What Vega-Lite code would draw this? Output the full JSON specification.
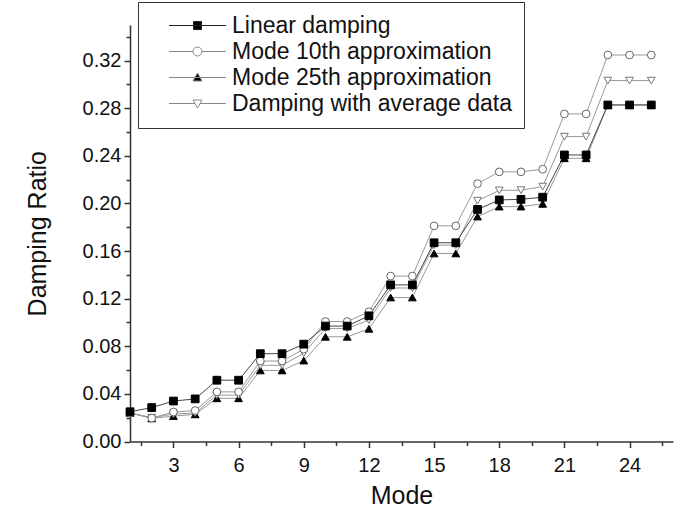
{
  "$schema": "https://vega.github.io/schema/vega-lite/v6.json",
  "width": 543,
  "height": 416.5,
  "autosize": "none",
  "padding": {"left": 130, "top": 25, "right": 13, "bottom": 73.5},
  "background": "white",
  "config": {
    "view": {"stroke": null},
    "font": "Liberation Sans",
    "axis": {"grid": false, "domainColor": "#333", "tickColor": "#333", "domainWidth": 1.5, "tickWidth": 1.5, "labelColor": "#111", "titleColor": "#111", "labelFont": "Liberation Sans", "titleFont": "Liberation Sans", "titleFontWeight": "normal"},
    "legend": {
      "orient": "none", "legendX": 8, "legendY": -23,
      "labelFontSize": 23, "labelFont": "Liberation Sans", "labelColor": "#111", "labelLimit": 500,
      "symbolSize": 400, "symbolStrokeWidth": 1, "symbolOpacity": 1, "symbolOffset": 36, "labelOffset": 23,
      "padding": 12, "rowPadding": 2, "strokeColor": "#333", "fillColor": "white"
    }
  },
  "data": {
    "values": [
      {"mode":1,"series":"Mode 25th approximation","v":0.024},{"mode":2,"series":"Mode 25th approximation","v":0.0194},{"mode":3,"series":"Mode 25th approximation","v":0.0214},{"mode":4,"series":"Mode 25th approximation","v":0.0228},{"mode":5,"series":"Mode 25th approximation","v":0.0363},{"mode":6,"series":"Mode 25th approximation","v":0.0363},{"mode":7,"series":"Mode 25th approximation","v":0.0597},{"mode":8,"series":"Mode 25th approximation","v":0.0597},{"mode":9,"series":"Mode 25th approximation","v":0.068},{"mode":10,"series":"Mode 25th approximation","v":0.088},{"mode":11,"series":"Mode 25th approximation","v":0.088},{"mode":12,"series":"Mode 25th approximation","v":0.0947},{"mode":13,"series":"Mode 25th approximation","v":0.121},{"mode":14,"series":"Mode 25th approximation","v":0.121},{"mode":15,"series":"Mode 25th approximation","v":0.158},{"mode":16,"series":"Mode 25th approximation","v":0.158},{"mode":17,"series":"Mode 25th approximation","v":0.189},{"mode":18,"series":"Mode 25th approximation","v":0.1974},{"mode":19,"series":"Mode 25th approximation","v":0.1974},{"mode":20,"series":"Mode 25th approximation","v":0.1997},{"mode":21,"series":"Mode 25th approximation","v":0.238},{"mode":22,"series":"Mode 25th approximation","v":0.238},{"mode":23,"series":"Mode 25th approximation","v":0.2828},{"mode":24,"series":"Mode 25th approximation","v":0.2828},{"mode":25,"series":"Mode 25th approximation","v":0.2828},
      {"mode":1,"series":"Damping with average data","v":0.024},{"mode":2,"series":"Damping with average data","v":0.02},{"mode":3,"series":"Damping with average data","v":0.023},{"mode":4,"series":"Damping with average data","v":0.024},{"mode":5,"series":"Damping with average data","v":0.039},{"mode":6,"series":"Damping with average data","v":0.039},{"mode":7,"series":"Damping with average data","v":0.064},{"mode":8,"series":"Damping with average data","v":0.064},{"mode":9,"series":"Damping with average data","v":0.0742},{"mode":10,"series":"Damping with average data","v":0.095},{"mode":11,"series":"Damping with average data","v":0.095},{"mode":12,"series":"Damping with average data","v":0.102},{"mode":13,"series":"Damping with average data","v":0.129},{"mode":14,"series":"Damping with average data","v":0.129},{"mode":15,"series":"Damping with average data","v":0.165},{"mode":16,"series":"Damping with average data","v":0.165},{"mode":17,"series":"Damping with average data","v":0.2024},{"mode":18,"series":"Damping with average data","v":0.211},{"mode":19,"series":"Damping with average data","v":0.2112},{"mode":20,"series":"Damping with average data","v":0.2142},{"mode":21,"series":"Damping with average data","v":0.2562},{"mode":22,"series":"Damping with average data","v":0.2562},{"mode":23,"series":"Damping with average data","v":0.3033},{"mode":24,"series":"Damping with average data","v":0.3033},{"mode":25,"series":"Damping with average data","v":0.3033},
      {"mode":1,"series":"Mode 10th approximation","v":0.024},{"mode":2,"series":"Mode 10th approximation","v":0.0197},{"mode":3,"series":"Mode 10th approximation","v":0.0248},{"mode":4,"series":"Mode 10th approximation","v":0.026},{"mode":5,"series":"Mode 10th approximation","v":0.0417},{"mode":6,"series":"Mode 10th approximation","v":0.0417},{"mode":7,"series":"Mode 10th approximation","v":0.0676},{"mode":8,"series":"Mode 10th approximation","v":0.0676},{"mode":9,"series":"Mode 10th approximation","v":0.0776},{"mode":10,"series":"Mode 10th approximation","v":0.1008},{"mode":11,"series":"Mode 10th approximation","v":0.1008},{"mode":12,"series":"Mode 10th approximation","v":0.109},{"mode":13,"series":"Mode 10th approximation","v":0.139},{"mode":14,"series":"Mode 10th approximation","v":0.139},{"mode":15,"series":"Mode 10th approximation","v":0.1812},{"mode":16,"series":"Mode 10th approximation","v":0.1812},{"mode":17,"series":"Mode 10th approximation","v":0.2167},{"mode":18,"series":"Mode 10th approximation","v":0.2266},{"mode":19,"series":"Mode 10th approximation","v":0.2266},{"mode":20,"series":"Mode 10th approximation","v":0.2288},{"mode":21,"series":"Mode 10th approximation","v":0.2753},{"mode":22,"series":"Mode 10th approximation","v":0.2753},{"mode":23,"series":"Mode 10th approximation","v":0.3248},{"mode":24,"series":"Mode 10th approximation","v":0.3248},{"mode":25,"series":"Mode 10th approximation","v":0.3248},
      {"mode":1,"series":"Linear damping","v":0.025},{"mode":2,"series":"Linear damping","v":0.0285},{"mode":3,"series":"Linear damping","v":0.034},{"mode":4,"series":"Linear damping","v":0.0358},{"mode":5,"series":"Linear damping","v":0.0515},{"mode":6,"series":"Linear damping","v":0.0515},{"mode":7,"series":"Linear damping","v":0.0738},{"mode":8,"series":"Linear damping","v":0.0738},{"mode":9,"series":"Linear damping","v":0.0818},{"mode":10,"series":"Linear damping","v":0.097},{"mode":11,"series":"Linear damping","v":0.097},{"mode":12,"series":"Linear damping","v":0.1056},{"mode":13,"series":"Linear damping","v":0.1316},{"mode":14,"series":"Linear damping","v":0.1316},{"mode":15,"series":"Linear damping","v":0.167},{"mode":16,"series":"Linear damping","v":0.167},{"mode":17,"series":"Linear damping","v":0.195},{"mode":18,"series":"Linear damping","v":0.203},{"mode":19,"series":"Linear damping","v":0.2035},{"mode":20,"series":"Linear damping","v":0.2053},{"mode":21,"series":"Linear damping","v":0.2408},{"mode":22,"series":"Linear damping","v":0.2408},{"mode":23,"series":"Linear damping","v":0.2828},{"mode":24,"series":"Linear damping","v":0.2828},{"mode":25,"series":"Linear damping","v":0.2828}
    ]
  },
  "layer": [
    {
      "mark": {"type": "line", "strokeWidth": 1},
      "encoding": {
        "x": {"field": "mode", "type": "quantitative", "scale": {"domain": [1, 26], "nice": false, "zero": false},
              "axis": {"orient": "bottom", "values": [3, 6, 9, 12, 15, 18, 21, 24], "title": "Mode", "tickSize": 6, "labelFontSize": 20, "titleFontSize": 25, "labelPadding": 8, "titlePadding": 8}},
        "y": {"field": "v", "type": "quantitative", "scale": {"domain": [0, 0.35], "nice": false, "zero": false},
              "axis": {"orient": "left", "values": [0, 0.04, 0.08, 0.12, 0.16, 0.2, 0.24, 0.28, 0.32], "format": ".2f", "title": "Damping Ratio", "tickSize": 6, "labelFontSize": 20, "titleFontSize": 25, "labelPadding": 3, "titlePadding": 32}},
        "color": {"field": "series", "type": "nominal", "legend": null,
                  "scale": {"domain": ["Damping with average data", "Mode 25th approximation", "Mode 10th approximation", "Linear damping"], "range": ["#999999", "#999999", "#999999", "#444444"]}}
      }
    },
    {
      "mark": {"type": "point", "size": 60, "opacity": 1, "strokeWidth": 1},
      "encoding": {
        "x": {"field": "mode", "type": "quantitative",
              "axis": {"orient": "bottom", "values": [1.5, 4.5, 7.5, 10.5, 13.5, 16.5, 19.5, 22.5, 25.5], "labels": false, "domain": false, "title": null, "tickSize": 4}},
        "y": {"field": "v", "type": "quantitative",
              "axis": {"orient": "left", "values": [0.02, 0.06, 0.1, 0.14, 0.18, 0.22, 0.26, 0.3, 0.34], "labels": false, "domain": false, "title": null, "tickSize": 4}},
        "shape": {"field": "series", "type": "nominal", "legend": null,
                  "scale": {"domain": ["Linear damping", "Mode 10th approximation", "Mode 25th approximation", "Damping with average data"], "range": ["square", "circle", "triangle-up", "triangle-down"]}},
        "fill": {"field": "series", "type": "nominal", "legend": null,
                 "scale": {"domain": ["Linear damping", "Mode 10th approximation", "Mode 25th approximation", "Damping with average data"], "range": ["#000000", "#ffffff", "#000000", "#ffffff"]}},
        "stroke": {"field": "series", "type": "nominal", "legend": null,
                   "scale": {"domain": ["Linear damping", "Mode 10th approximation", "Mode 25th approximation", "Damping with average data"], "range": ["#000000", "#666666", "#000000", "#777777"]}}
      }
    },
    {
      "mark": {"type": "point", "size": 400, "opacity": 0, "strokeWidth": 1},
      "encoding": {
        "x": {"field": "mode", "type": "quantitative", "axis": null},
        "y": {"field": "v", "type": "quantitative", "axis": null},
        "shape": {"field": "series", "type": "nominal", "legend": {"title": null},
                  "scale": {"domain": ["Linear damping", "Mode 10th approximation", "Mode 25th approximation", "Damping with average data"],
                            "range": ["M-2.85,0H2.85M-0.4,-0.4H0.4V0.4H-0.4Z", "M-2.85,0H-0.45M0.45,0H2.85M-0.45,0A0.45,0.45,0,1,1,0.45,0A0.45,0.45,0,1,1,-0.45,0Z", "M-2.85,0H2.85M0,-0.45L0.45,0.35L-0.45,0.35Z", "M-2.85,0H-0.25M0.25,0H2.85M-0.45,-0.35L0.45,-0.35L0,0.45Z"]}},
        "fill": {"field": "series", "type": "nominal", "legend": {"title": null},
                 "scale": {"domain": ["Linear damping", "Mode 10th approximation", "Mode 25th approximation", "Damping with average data"], "range": ["#000000", "#ffffff", "#000000", "#ffffff"]}},
        "stroke": {"field": "series", "type": "nominal", "legend": {"title": null},
                   "scale": {"domain": ["Linear damping", "Mode 10th approximation", "Mode 25th approximation", "Damping with average data"], "range": ["#222222", "#888888", "#888888", "#888888"]}}
      }
    }
  ],
  "resolve": {
    "axis": {"x": "independent", "y": "independent"},
    "scale": {"shape": "independent", "fill": "independent", "stroke": "independent"}
  }
}
